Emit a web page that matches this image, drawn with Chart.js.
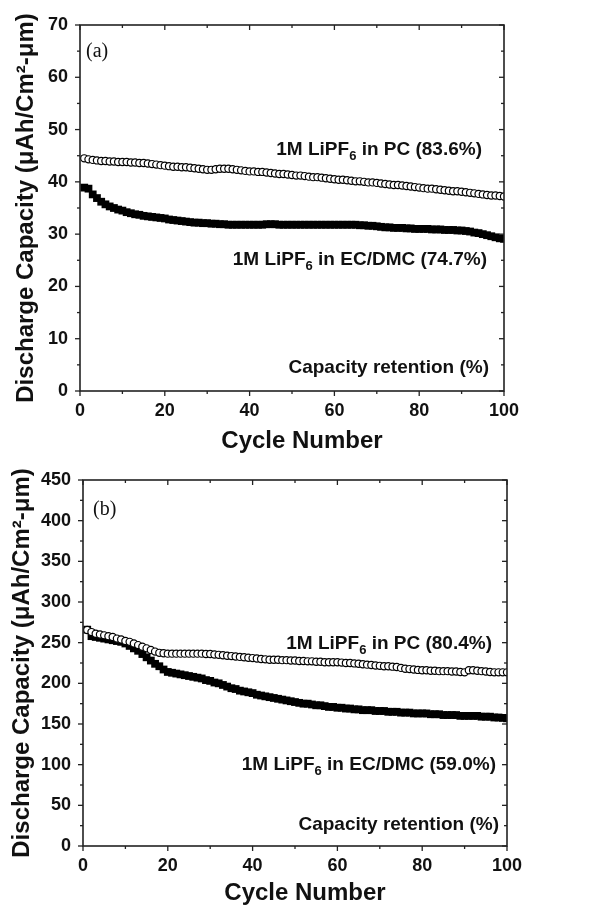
<!DOCTYPE html>
<html>
<head>
<meta charset="utf-8">
<script src="https://cdn.jsdelivr.net/npm/chart.js@4"></script>
<style>
  html, body { margin: 0; padding: 0; background: #fff; }
  #wrap { position: relative; width: 612px; height: 906px; overflow: hidden; }
  #chartA { position: absolute; left: 0; top: 0; }
  #chartB { position: absolute; left: 0; top: 455px; }
</style>
</head>
<body>
<div id="wrap">
  <canvas id="chartA" width="612" height="453"></canvas>
  <canvas id="chartB" width="612" height="451"></canvas>
</div>
<script>
// ── cycle index (1..100) ──
const cycles = Array.from({ length: 100 }, (_, i) => i + 1);

// ── panel (a): thin film, capacity in uAh/cm2-um ──
const pcA = [
  44.5, 44.3, 44.2, 44.1, 44.0, 44.0, 43.9, 43.9, 43.8, 43.8,
  43.8, 43.7, 43.7, 43.6, 43.6, 43.5, 43.4, 43.3, 43.2, 43.1,
  43.0, 42.9, 42.9, 42.8, 42.8, 42.7, 42.6, 42.5, 42.4, 42.3,
  42.3, 42.4, 42.5, 42.5, 42.5, 42.4, 42.3, 42.2, 42.1, 42.0,
  42.0, 41.9, 41.9, 41.8, 41.7, 41.6, 41.5, 41.5, 41.4, 41.3,
  41.2, 41.2, 41.1, 41.0, 40.9, 40.9, 40.8, 40.7, 40.6, 40.5,
  40.4, 40.4, 40.3, 40.2, 40.1, 40.1, 40.0, 39.9, 39.9, 39.8,
  39.7, 39.6, 39.5, 39.4, 39.4, 39.3, 39.2, 39.1, 39.0, 38.9,
  38.8, 38.7, 38.7, 38.6, 38.5, 38.4, 38.3, 38.2, 38.2, 38.1,
  38.0, 37.9, 37.8, 37.7, 37.6, 37.5, 37.4, 37.4, 37.3, 37.2
];
const ecA = [
  38.9, 38.7, 37.6, 36.9, 36.2, 35.7, 35.3, 35.0, 34.7, 34.5,
  34.2, 34.0, 33.8, 33.7, 33.5, 33.4, 33.3, 33.2, 33.1, 33.0,
  32.8, 32.7, 32.6, 32.5, 32.4, 32.3, 32.2, 32.2, 32.1, 32.1,
  32.0, 32.0, 31.9, 31.9, 31.8, 31.8, 31.8, 31.8, 31.8, 31.8,
  31.8, 31.8, 31.8, 31.9, 31.9, 31.9, 31.8, 31.8, 31.8, 31.8,
  31.8, 31.8, 31.8, 31.8, 31.8, 31.8, 31.8, 31.8, 31.8, 31.8,
  31.8, 31.8, 31.8, 31.8, 31.8, 31.7, 31.7, 31.6, 31.6, 31.5,
  31.4, 31.3, 31.3, 31.2, 31.2, 31.2, 31.1, 31.1, 31.0, 31.0,
  31.0, 31.0, 30.9, 30.9, 30.9, 30.8, 30.8, 30.8, 30.7, 30.7,
  30.6, 30.5, 30.3, 30.2, 30.0, 29.8, 29.6, 29.4, 29.2, 29.1
];

// ── panel (b) ──
const pcB = [
  265.6, 263, 261, 260, 259, 258, 257, 255, 254, 252,
  251, 249, 247, 245, 243, 241, 239, 237.5, 237, 236.5,
  236.5, 236.5, 236.5, 236.5, 236.5, 236.5, 236.5, 236.5, 236, 236,
  235.5, 235, 234.5, 234, 233.5, 233, 232.5, 232, 231.5, 231,
  230.5, 230, 229.5, 229, 229, 229, 228.5, 228.5, 228, 228,
  227.5, 227.5, 227, 227, 226.5, 226.5, 226, 226, 226, 226,
  225.5, 225, 225, 224.5, 224, 223.5, 223, 222.5, 222, 221.5,
  221, 221, 220.5, 220, 219, 218, 217.5, 217, 216.5, 216,
  216, 215.5, 215.5, 215, 215, 215, 214.5, 214.5, 214, 213.5,
  216, 216, 215.5, 215, 214.5, 214, 213.5, 213.5, 213.5, 213.5
];
const ecB = [
  266, 258, 257, 256, 255, 254, 253, 252, 251, 249,
  246, 243, 240, 236, 232, 228, 224, 221, 217, 214,
  213, 212, 211, 210, 209, 208, 207, 206, 204, 203,
  201, 200, 198, 196, 194, 193, 191, 190, 189, 188,
  186, 185, 184, 183, 182, 181, 180, 179, 178, 177,
  176, 175, 175, 174, 173, 173, 172, 171, 171, 170,
  170, 169, 169, 168, 168, 167, 167, 167, 166, 166,
  166, 165, 165, 165, 164, 164, 164, 163, 163, 163,
  163, 162, 162, 162, 161, 161, 161, 161, 160, 160,
  160, 160, 160, 159, 159, 159, 158, 158, 157.5, 157
];

const FONT = 'Arial, "Liberation Sans", Helvetica, sans-serif';
const INK = '#111';

// frame box + Origin-style tick marks (out on left/bottom, in on top/right)
const frameTicks = {
  id: 'frameTicks',
  afterDatasetsDraw(chart, args, opts) {
    const { ctx, chartArea: a, scales: { x, y } } = chart;
    const seg = (x1, y1, x2, y2) => { ctx.beginPath(); ctx.moveTo(x1, y1); ctx.lineTo(x2, y2); ctx.stroke(); };
    ctx.save();
    ctx.strokeStyle = '#222';
    ctx.lineWidth = 1.6;
    ctx.strokeRect(a.left, a.top, a.right - a.left, a.bottom - a.top);
    ctx.lineWidth = 1.3;
    for (let v = x.min; v <= x.max + 1e-9; v += opts.xMinor) {
      const px = x.getPixelForValue(v);
      const len = Math.abs(v % opts.xMajor) < 1e-9 ? 5 : 3;
      seg(px, a.bottom, px, a.bottom + len);
      seg(px, a.top, px, a.top + len);
    }
    for (let v = y.min; v <= y.max + 1e-9; v += opts.yMinor) {
      const py = y.getPixelForValue(v);
      const len = Math.abs(v % opts.yMajor) < 1e-9 ? 5 : 3;
      seg(a.left - len, py, a.left, py);
      seg(a.right - len, py, a.right, py);
    }
    ctx.restore();
  }
};

// in-plot text (with LiPF6 subscripts) and the x-axis title
const notes = {
  id: 'notes',
  afterDraw(chart, args, opts) {
    const ctx = chart.ctx;
    ctx.save();
    ctx.fillStyle = INK;
    ctx.textBaseline = 'alphabetic';
    ctx.textAlign = 'left';
    opts.items.forEach(item => {
      if (item.serif) {
        ctx.font = '20px "Times New Roman", "Liberation Serif", serif';
        ctx.fillText(item.parts[0][0], item.x, item.y);
        return;
      }
      const size = item.size || 19;
      const big = 'bold ' + size + 'px ' + FONT, small = 'bold 13px ' + FONT;
      let total = 0;
      item.parts.forEach(([t, sub]) => { ctx.font = sub ? small : big; total += ctx.measureText(t).width; });
      let cx = item.center ? item.x - total / 2 : item.x - total;
      item.parts.forEach(([t, sub]) => {
        ctx.font = sub ? small : big;
        ctx.fillText(t, cx, item.y + (sub ? 5 : 0));
        cx += ctx.measureText(t).width;
      });
    });
    ctx.restore();
  }
};

function makeChart(id, pc, ec, yMax, yStep, dims, items) {
  const pts = vals => cycles.map((c, i) => ({ x: c, y: vals[i] }));
  return new Chart(document.getElementById(id), {
    type: 'scatter',
    data: {
      datasets: [
        {
          label: 'PC',
          data: pts(pc),
          pointStyle: 'circle',
          pointRadius: 3.6,
          pointBorderWidth: 1.2,
          pointBorderColor: '#000',
          pointBackgroundColor: '#fff',
        },
        {
          label: 'EC/DMC',
          data: pts(ec),
          pointStyle: 'rect',
          pointRadius: 5.5,
          pointBorderWidth: 0,
          pointBackgroundColor: '#000',
        },
      ],
    },
    options: {
      responsive: false,
      animation: false,
      events: [],
      layout: { padding: { top: 25, right: dims.right, left: 0, bottom: 0 } },
      plugins: {
        legend: { display: false },
        tooltip: { enabled: false },
        frameTicks: { xMajor: 20, xMinor: 10, yMajor: yStep, yMinor: yStep / 2 },
        notes: { items: items },
      },
      scales: {
        x: {
          type: 'linear',
          min: 0, max: 100,
          grid: { display: false, drawTicks: false },
          border: { display: false },
          ticks: { stepSize: 20, color: INK, padding: 9, font: { family: FONT, size: 18, weight: 'bold' } },
          afterFit: s => { s.height = dims.xHeight; },
        },
        y: {
          min: 0, max: yMax,
          grid: { display: false, drawTicks: false },
          border: { display: false },
          ticks: { stepSize: yStep, color: INK, padding: 12, font: { family: FONT, size: 18, weight: 'bold' } },
          title: {
            display: true,
            text: 'Discharge Capacity (\u03BCAh/Cm\u00B2-\u03BCm)',
            color: INK,
            font: { family: FONT, size: 24, weight: 'bold', lineHeight: 1 },
            padding: { top: dims.titleLeft, bottom: 0 },
          },
          afterFit: s => { s.width = dims.yWidth; },
        },
      },
    },
    plugins: [frameTicks, notes],
  });
}

makeChart('chartA', pcA, ecA, 70, 10,
  { right: 108, yWidth: 80, xHeight: 62, titleLeft: 14 },
  [
    { serif: true, parts: [['(a)']], x: 86, y: 57 },
    { parts: [['1M LiPF', 0], ['6', 1], [' in PC (83.6%)', 0]], x: 482, y: 155 },
    { parts: [['1M LiPF', 0], ['6', 1], [' in EC/DMC (74.7%)', 0]], x: 487, y: 265 },
    { parts: [['Capacity retention (%)', 0]], x: 489, y: 373 },
    { center: true, size: 24, parts: [['Cycle Number', 0]], x: 302, y: 448 },
  ]);

makeChart('chartB', pcB, ecB, 450, 50,
  { right: 105, yWidth: 83, xHeight: 60, titleLeft: 10 },
  [
    { serif: true, parts: [['(b)']], x: 93, y: 60 },
    { parts: [['1M LiPF', 0], ['6', 1], [' in PC (80.4%)', 0]], x: 492, y: 194 },
    { parts: [['1M LiPF', 0], ['6', 1], [' in EC/DMC (59.0%)', 0]], x: 496, y: 315 },
    { parts: [['Capacity retention (%)', 0]], x: 499, y: 375 },
    { center: true, size: 24, parts: [['Cycle Number', 0]], x: 305, y: 445 },
  ]);
</script>
</body>
</html>
